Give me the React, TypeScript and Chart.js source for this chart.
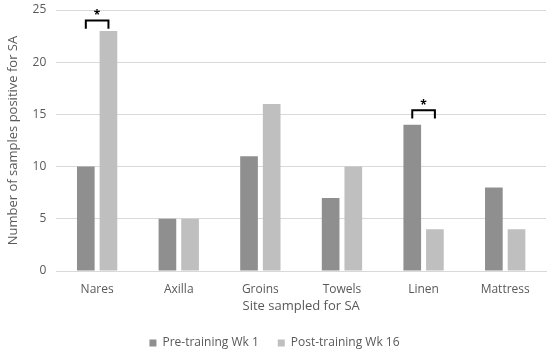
import React, { useEffect, useRef } from "react";
import { Chart, registerables } from "chart.js";

Chart.register(...registerables);

const categories = ["Nares", "Axilla", "Groins", "Towels", "Linen", "Mattress"];
const preTraining = [10, 5, 11, 7, 14, 8];
const postTraining = [23, 5, 16, 10, 4, 4];
const seriesNames = ["Pre-training Wk 1", "Post-training Wk 16"];
const yTicks = [0, 5, 10, 15, 20, 25];
// significance brackets: category index, bracket top value, leg bottom value
const sigCategories = [0, 4];
const sigTop = [24.0, 15.4];
const sigLegBottom = [23.2, 14.6];

const FONT = "'Open Sans', 'Liberation Sans', sans-serif";
const TXT = "#595959";

const bracketPlugin = {
  id: "sigBrackets",
  afterDatasetsDraw(chart: any) {
    const ctx = chart.ctx;
    const y = chart.scales.y;
    const m0 = chart.getDatasetMeta(0);
    const m1 = chart.getDatasetMeta(1);
    ctx.save();
    ctx.strokeStyle = "#000";
    ctx.lineWidth = 2;
    ctx.fillStyle = "#000";
    sigCategories.forEach((ci, k) => {
      const x0 = m0.data[ci].x;
      const x1 = m1.data[ci].x;
      const yt = y.getPixelForValue(sigTop[k]);
      const yb = y.getPixelForValue(sigLegBottom[k]);
      ctx.beginPath();
      ctx.moveTo(x0, yb);
      ctx.lineTo(x0, yt);
      ctx.lineTo(x1, yt);
      ctx.lineTo(x1, yb);
      ctx.stroke();
      ctx.font = `bold 12px ${FONT}`;
      ctx.textAlign = "center";
      ctx.textBaseline = "middle";
      ctx.fillText("*", (x0 + x1) / 2, yt - 5);
    });
    ctx.restore();
  },
};

export default function App() {
  const ref = useRef<HTMLCanvasElement>(null);
  useEffect(() => {
    const chart = new Chart(ref.current!, {
      type: "bar",
      data: {
        labels: categories,
        datasets: [
          { label: seriesNames[0], data: preTraining, backgroundColor: "#8f8f8f", categoryPercentage: 0.555, barPercentage: 0.78 },
          { label: seriesNames[1], data: postTraining, backgroundColor: "#bfbfbf", categoryPercentage: 0.555, barPercentage: 0.78 },
        ],
      },
      options: {
        animation: false,
        responsive: false,
        maintainAspectRatio: false,
        layout: { padding: { top: 0, right: 4, left: 3, bottom: -4 } },
        plugins: {
          tooltip: { enabled: false },
          legend: {
            position: "bottom",
            labels: {
              boxWidth: 7,
              boxHeight: 7,
              padding: 19,
              color: TXT,
              font: { family: FONT, size: 12 },
            },
          },
        },
        scales: {
          x: {
            grid: { display: false, drawTicks: false },
            border: { display: true, color: "#d9d9d9" },
            ticks: { color: TXT, font: { family: FONT, size: 12 }, padding: 11 },
            title: { display: true, text: "Site sampled for SA", color: TXT, font: { family: FONT, size: 13 }, padding: { top: -9, bottom: 4 } },
          },
          y: {
            min: 0,
            max: 25,
            afterBuildTicks: (s: any) => { s.ticks = yTicks.map((v) => ({ value: v })); },
            afterFit: (s: any) => { s.paddingTop = 10; },
            grid: { color: "#d9d9d9", drawTicks: false },
            border: { display: false },
            ticks: { color: TXT, font: { family: FONT, size: 12 }, padding: 10 },
            title: { display: true, text: "Number of samples positive for SA", color: TXT, font: { family: FONT, size: 13 }, padding: { top: 2, bottom: 2 } },
          },
        },
      },
      plugins: [bracketPlugin],
    });
    return () => chart.destroy();
  }, []);
  return (
    <div style={{ position: "fixed", left: 0, top: 0, width: 550, height: 355, background: "#fff" }}>
      <canvas ref={ref} width={550} height={355} />
    </div>
  );
}
